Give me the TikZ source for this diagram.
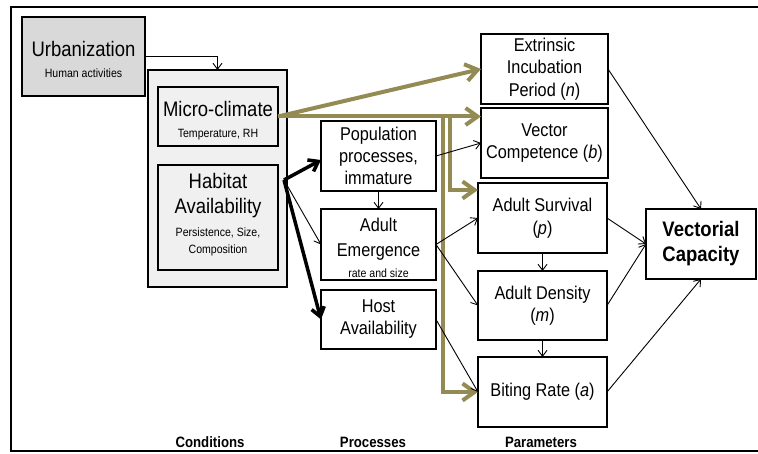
\documentclass[tikz,border=0pt]{standalone}
\usepackage{fontspec}
\setmainfont{Liberation Sans}[FakeStretch=0.88]
\usetikzlibrary{arrows.meta}
\definecolor{oliveline}{HTML}{948A54}
\definecolor{urbgray}{HTML}{D9D9D9}
\definecolor{condgray}{HTML}{F0F0F0}
\begin{document}
\begin{tikzpicture}[x=1pt,y=-1pt,
  every node/.style={inner sep=0pt, outer sep=0pt},
  pbox/.style={draw=black, line width=1.2pt, fill=white, align=center,
    font=\fontsize{18.5}{22}\selectfont},
  gbox/.style={draw=black, line width=1.3pt, fill=condgray},
  bigt/.style={anchor=base, font=\fontsize{21}{25}\selectfont},
  midt/.style={anchor=base, font=\fontsize{18.5}{22}\selectfont},
  smallt/.style={anchor=base, font=\fontsize{12}{14}\selectfont},
  colt/.style={anchor=base, font=\fontsize{15}{18}\selectfont\bfseries},
  thinar/.style={-{Straight Barb[length=6pt,width=9pt]}, line width=0.9pt},
  thickar/.style={-{Straight Barb[length=9pt,width=13pt]}, line width=3.5pt},
  olivear/.style={draw=oliveline, -{Straight Barb[length=12pt,width=17pt]}, line width=4pt},
]
\useasboundingbox (0,0) rectangle (758,454);
\draw[line width=2.5pt] (11,7) rectangle (763,451);

% Conditions
\node[draw, line width=2.5pt, fill=urbgray, minimum width=123pt, minimum height=79pt] (urb) at (83.5,56.5) {};
\node[bigt] (urbt) at (83.5,57) {Urbanization};
\node[smallt] (urbs) at (83.5,78) {Human activities};

\node[draw, line width=2.8pt, fill=condgray, minimum width=139pt, minimum height=217pt] (cond) at (217.5,178.5) {};
\node[gbox, minimum width=120pt, minimum height=59pt] (micro) at (218,116.5) {};
\node[bigt] (microt) at (218,117) {Micro-climate};
\node[smallt] (micros) at (218,138) {Temperature, RH};
\node[gbox, minimum width=120pt, minimum height=105pt] (hab) at (218,217.5) {};
\node[bigt] (habt1) at (218,189) {Habitat};
\node[bigt] (habt2) at (218,214) {Availability};
\node[smallt] (habs1) at (218,237) {Persistence, Size,};
\node[smallt] (habs2) at (218,254) {Composition};

% Processes
\node[pbox, minimum width=115pt, minimum height=70pt] (pop) at (378.5,156) {Population\\processes,\\immature};
\node[pbox, minimum width=115pt, minimum height=71pt] (ae) at (378.5,244.5) {};
\node[midt] (aet1) at (378.5,232) {Adult};
\node[midt] (aet2) at (378.5,257) {Emergence};
\node[smallt] (aes) at (378.5,278) {rate and size};
\node[pbox, minimum width=115pt, minimum height=59pt] (host) at (378.5,319.5) {Host\\Availability};

% Parameters
\tikzset{ppar/.style={pbox, font=\fontsize{18.5}{22.5}\selectfont}}
\node[ppar, minimum width=127pt, minimum height=70pt] (extr) at (544.5,69) {Extrinsic\\Incubation\\Period (\textit{n})};
\node[ppar, minimum width=127pt, minimum height=70pt] (vc) at (544.5,143) {Vector\\Competence (\textit{b})};
\node[ppar, minimum width=129pt, minimum height=70pt] (surv) at (542.5,218) {Adult Survival\\(\textit{p})};
\node[ppar, minimum width=129pt, minimum height=69pt] (dens) at (542.5,305.5) {Adult Density\\(\textit{m})};
\node[ppar, minimum width=129pt, minimum height=70pt] (bite) at (542.5,392) {Biting Rate (\textit{a})};
\node[pbox, minimum width=110pt, minimum height=70pt, font=\fontsize{21}{25}\selectfont\bfseries] (vcap) at (701,244) {Vectorial\\Capacity};

% Column labels
\node[colt] (lc) at (210,447) {Conditions};
\node[colt] (lp) at (373,447) {Processes};
\node[colt] (lq) at (541,447) {Parameters};

% Urbanization arrow
\draw[thinar] (urb.east) -| (cond.north);

% Olive arrows
\coordinate (ja) at (443,116.5);
\coordinate (jb) at (450,116.5);
\coordinate (st) at (478,190);
\draw[olivear] (micro.east) -- (extr.west);
\draw[olivear] (micro.east) -- (vc.west |- micro.east);
\draw[olivear] (ja) |- (bite.west);
\draw[olivear] (jb) |- (st);

% Habitat arrows
\coordinate (hs) at (284,180);
\draw[thickar] (hs) -- ([yshift=-4pt]pop.west);
\draw[thickar] (hs) -- (host.west);
\draw[thinar] (hs) -- (ae.west);

% Process to parameters
\draw[thinar] (pop.south) -- (ae.north);
\draw[thinar] (pop.east) -- (vc.west);
\draw[thinar] (ae.east) -- (surv.west);
\draw[thinar] (ae.east) -- (dens.west);
\draw[thinar] (host.east) -- (bite.west);
\draw[thinar] (surv.south) -- (dens.north);
\draw[thinar] (dens.south) -- (bite.north);

% To vectorial capacity
\draw[thinar] (extr.east) -- (vcap.north);
\draw[thinar] (surv.east) -- (vcap.west);
\draw[thinar] (dens.east) -- (vcap.west);
\draw[thinar] (bite.east) -- (vcap.south);
\end{tikzpicture}
\end{document}
